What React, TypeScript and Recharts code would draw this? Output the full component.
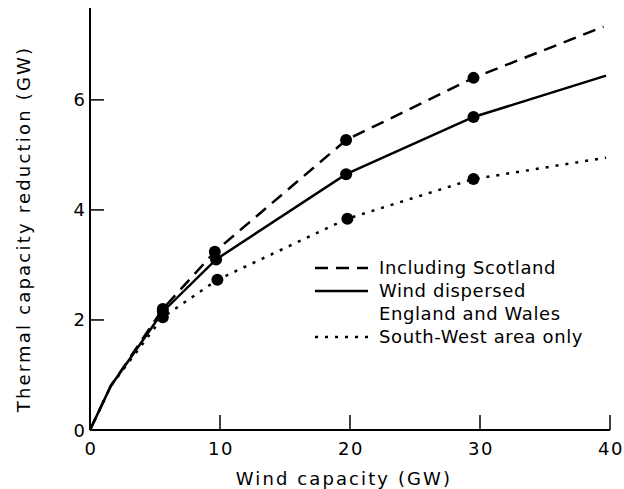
import { ComposedChart, Legend, Line, XAxis, YAxis } from "recharts";

// readings (GW)
const scotlandX = [0, 1.6, 5.6, 9.6, 19.7, 29.5, 39.5];
const scotlandY = [0, 0.8, 2.2, 3.24, 5.27, 6.4, 7.33];
const dispersedX = [0, 1.6, 5.6, 9.7, 19.7, 29.5, 39.7];
const dispersedY = [0, 0.8, 2.15, 3.1, 4.65, 5.69, 6.44];
const southWestX = [0, 1.6, 5.6, 9.8, 19.8, 29.5, 39.7];
const southWestY = [0, 0.8, 2.05, 2.73, 3.84, 4.56, 4.95];
// which points carry a filled marker
const measured = [false, false, true, true, true, true, false];

const xTicks = [0, 10, 20, 30, 40];
const yTicks = [0, 2, 4, 6];

const FONT = "'DejaVu Sans', sans-serif";

const toRows = (xs: number[], ys: number[]) =>
  xs.map((x, i) => ({ x, y: ys[i], measured: measured[i] }));

const series = [
  { name: "Including Scotland", data: toRows(scotlandX, scotlandY), dash: "13 8" },
  { name: "Wind dispersed\nEngland and Wales", data: toRows(dispersedX, dispersedY), dash: undefined },
  { name: "South-West area only", data: toRows(southWestX, southWestY), dash: "3 7" },
];

const Marker = (props: any) => {
  const { cx, cy, payload, index } = props;
  if (!payload?.measured) return <g key={index} />;
  return <circle key={index} cx={cx} cy={cy} r={6} fill="#000" />;
};

const YTick = (props: any) => {
  const { x, y, payload } = props;
  return (
    <g>
      {payload.value !== 0 && (
        <line x1={x + 4} x2={x + 18} y1={y} y2={y} stroke="#000" strokeWidth={1.5} />
      )}
      <text
        x={x - 1}
        y={y}
        textAnchor="end"
        dominantBaseline="central"
        fontFamily={FONT}
        fontSize={18}
        fill="#000"
      >
        {payload.value}
      </text>
    </g>
  );
};

const XTick = (props: any) => {
  const { x, y, payload } = props;
  return (
    <g>
      {payload.value !== 0 && (
        <line x1={x} x2={x} y1={y - 8} y2={y - 23} stroke="#000" strokeWidth={1.5} />
      )}
      <text
        x={x + 1}
        y={y + 10}
        textAnchor="middle"
        dominantBaseline="central"
        fontFamily={FONT}
        fontSize={18}
        letterSpacing={1.5}
        fill="#000"
      >
        {payload.value}
      </text>
    </g>
  );
};

const YLabel = (props: any) => {
  const { viewBox } = props;
  const x = viewBox.x + 23;
  const y = viewBox.y + viewBox.height / 2 + 10;
  return (
    <text
      x={x}
      y={y}
      transform={`rotate(-90 ${x} ${y})`}
      textAnchor="middle"
      dominantBaseline="central"
      fontFamily={FONT}
      fontSize={18}
      letterSpacing={2.2}
      fill="#000"
    >
      Thermal capacity reduction (GW)
    </text>
  );
};

const LegendBox = () => (
  <div style={{ fontFamily: FONT, fontSize: 18, letterSpacing: 0.6, lineHeight: "23px", color: "#000" }}>
    {series.map((s) => (
      <div key={s.name} style={{ display: "flex", alignItems: "flex-start" }}>
        <svg width={66} height={23} style={{ flex: "none" }}>
          <line
            x1={2}
            x2={55}
            y1={12}
            y2={12}
            stroke="#000"
            strokeWidth={2.5}
            strokeDasharray={s.dash}
          />
        </svg>
        <div>
          {s.name.split("\n").map((line) => (
            <div key={line}>{line}</div>
          ))}
        </div>
      </div>
    ))}
  </div>
);

export default function App() {
  return (
    <div style={{ position: "absolute", left: 0, top: 0, background: "#fff" }}>
      <ComposedChart width={624} height={489} margin={{ top: 8, right: 14, bottom: 0, left: 0 }}>
        <XAxis
          type="number"
          dataKey="x"
          domain={[0, 40]}
          ticks={xTicks}
          height={59}
          tickSize={0}
          tickMargin={8}
          tickLine={false}
          tick={XTick}
          axisLine={{ stroke: "#000", strokeWidth: 2 }}
          label={{
            value: "Wind capacity (GW)",
            position: "insideBottom",
            offset: 4,
            dx: -6,
            fill: "#000",
            style: { fontFamily: FONT, fontSize: 18, letterSpacing: 2.1 },
          }}
        />
        <YAxis
          type="number"
          dataKey="y"
          domain={[0, 7.67]}
          allowDataOverflow
          ticks={yTicks}
          width={90}
          tickSize={0}
          tickMargin={4}
          tickLine={false}
          tick={YTick}
          axisLine={{ stroke: "#000", strokeWidth: 2 }}
          label={{ content: YLabel }}
        />
        <Legend
          layout="horizontal"
          verticalAlign="middle"
          align="center"
          content={LegendBox}
          wrapperStyle={{ left: 313, top: 256, width: 300 }}
        />
        {series.map((s) => (
          <Line
            key={s.name}
            name={s.name}
            data={s.data}
            dataKey="y"
            type="linear"
            stroke="#000"
            strokeWidth={2.5}
            strokeDasharray={s.dash}
            dot={Marker}
            activeDot={false}
            legendType="none"
            isAnimationActive={false}
          />
        ))}
      </ComposedChart>
    </div>
  );
}
